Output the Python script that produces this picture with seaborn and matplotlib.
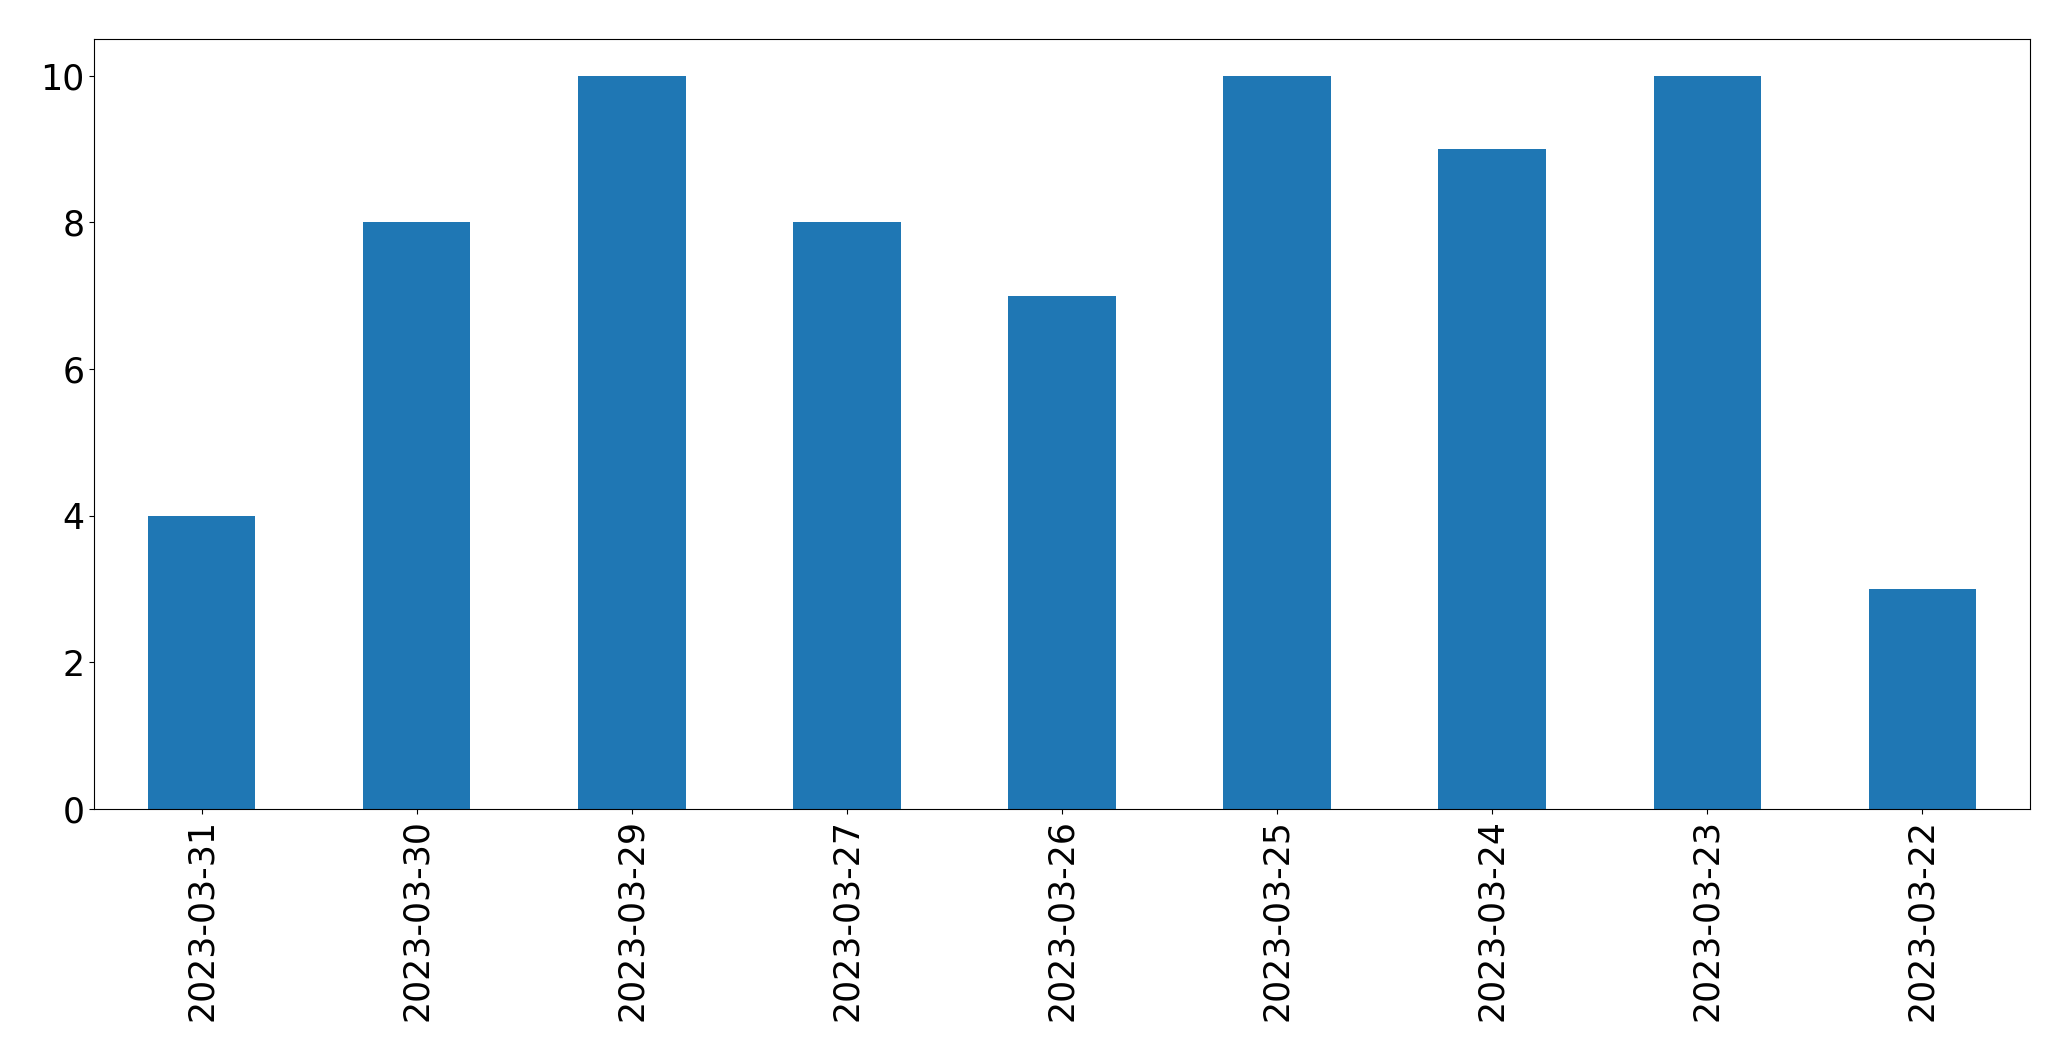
import matplotlib
matplotlib.use("Agg")
import matplotlib.pyplot as plt
import pandas as pd
import seaborn as sns

# ---------------------------------------------------------------------------
# Data
# ---------------------------------------------------------------------------
dates = [
    "2023-03-31", "2023-03-30", "2023-03-29", "2023-03-27", "2023-03-26",
    "2023-03-25", "2023-03-24", "2023-03-23", "2023-03-22",
]
counts = [4, 8, 10, 8, 7, 10, 9, 10, 3]

df = pd.DataFrame({"date": dates, "count": counts})

# plain matplotlib look: black text, black spines
plt.rcParams["font.family"] = ["DejaVu Sans"]

fig, ax = plt.subplots(figsize=(20.71, 10.61), dpi=100)
fig.subplots_adjust(left=94 / 2071, right=2030 / 2071, top=1 - 39 / 1061, bottom=1 - 809 / 1061)

sns.barplot(data=df, x="date", y="count", order=dates, color="#1f77b4",
            saturation=1, width=0.5, linewidth=0, ax=ax)

ax.set_xlim(-0.5, len(dates) - 0.5)
ax.set_ylim(0, 10.5)
ax.set_xlabel("")
ax.set_ylabel("")
ax.tick_params(axis="both", labelsize=25, length=3.5, width=0.8, colors="black")
plt.setp(ax.get_xticklabels(), rotation=90)

fig.savefig("out.png", dpi=100)
